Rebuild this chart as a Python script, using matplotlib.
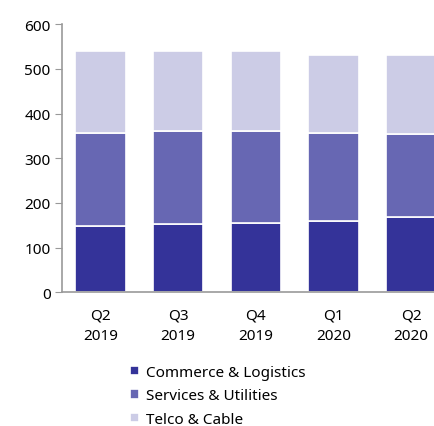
import matplotlib.pyplot as plt
import numpy as np

plt.rcParams["font.family"] = ["Noto Sans", "DejaVu Sans"]

quarters = ["Q2\n2019", "Q3\n2019", "Q4\n2019", "Q1\n2020", "Q2\n2020"]
commerce = [149, 152, 156, 160, 168]
services = [207, 208, 204, 197, 187]
telco = [183, 181, 179, 175, 175]

colors = ["#343399", "#6767b3", "#ccccE6"]
labels = ["Commerce & Logistics", "Services & Utilities", "Telco & Cable"]

fig = plt.figure(figsize=(4.34, 4.27), dpi=100)
ax = fig.add_axes([0.142, 0.313, 0.895, 0.628])

x = np.arange(len(quarters))
bottom = np.zeros(len(quarters))
handles = []
for vals, c, lab in zip([commerce, services, telco], colors, labels):
    b = ax.bar(x, vals, 0.65, bottom=bottom, color=c, edgecolor="white",
               linewidth=1.2, label=lab)
    handles.append(b)
    bottom += np.array(vals)

ax.set_xlim(-0.5, 4.5)
ax.set_ylim(0, 600)
ax.set_yticks(range(0, 601, 100))
ax.set_xticks(x)
ax.set_xticklabels(quarters, fontsize=11, linespacing=1.45)
ax.tick_params(axis="y", labelsize=11, length=5, color="#999999", pad=3)
ax.tick_params(axis="x", length=0, pad=11)
for s in ["top", "right"]:
    ax.spines[s].set_visible(False)
for s in ["left", "bottom"]:
    ax.spines[s].set_color("#999999")
    ax.spines[s].set_linewidth(1.2)

fig.legend(handles=handles, labels=labels, loc="upper left",
           bbox_to_anchor=(0.30, 0.143), frameon=False, fontsize=11,
           handlelength=0.6, handleheight=0.6, handletextpad=0.45,
           labelspacing=0.55, borderpad=0, borderaxespad=0)

fig.savefig("out.png", dpi=100)
